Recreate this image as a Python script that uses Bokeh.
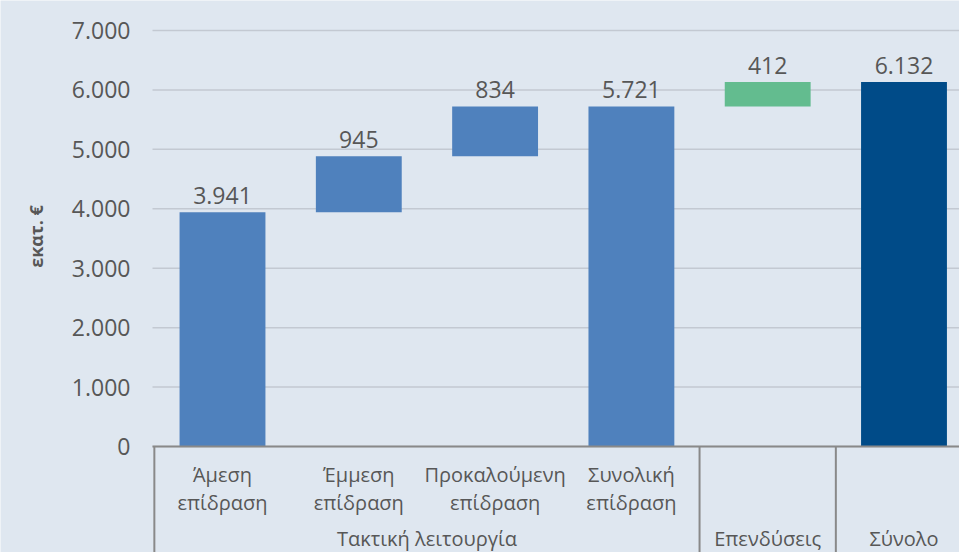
import math
from bokeh.plotting import figure
from bokeh.models import ColumnDataSource, Range1d
from bokeh.core.properties import value
from bokeh.embed import file_html
from bokeh.resources import INLINE

# ---- data ----
categories = ["Άμεση\nεπίδραση", "Έμμεση\nεπίδραση", "Προκαλούμενη\nεπίδραση",
              "Συνολική\nεπίδραση", "", ""]
groups = ["Τακτική λειτουργία", "Επενδύσεις", "Σύνολο"]
group_sizes = [4, 1, 1]
values = [3941, 945, 834, 5721, 412, 6132]
kinds = ["step", "step", "step", "total", "step", "total"]
y_ticks = [0, 1000, 2000, 3000, 4000, 5000, 6000, 7000]
y_label = "εκατ. €"

# ---- styles ----
bar_colors = ["#4f81bd", "#4f81bd", "#4f81bd", "#4f81bd", "#63bc8f", "#004b88"]
BG = "#dfe7f0"
TXT = "#575757"
AX = "#898989"
GRID = "#c3c9d2"
FONT = "Open Sans"

def fmt(v):
    return f"{v:,}".replace(",", ".")

# waterfall bottoms / tops
bottoms, tops = [], []
running = 0
for v, k in zip(values, kinds):
    if k == "total":
        bottoms.append(0)
        tops.append(v)
        running = v
    else:
        bottoms.append(running)
        tops.append(running + v)
        running += v

xs = list(range(len(values)))
src = ColumnDataSource(dict(x=xs, bottom=bottoms, top=tops, color=bar_colors,
                            label=[fmt(v) for v in values],
                            line1=[c.split("\n")[0] for c in categories],
                            line2=[c.split("\n")[1] if "\n" in c else "" for c in categories]))

# ---- layout (whole canvas is the frame) ----
W, H = 959, 552
PX_PER_UNIT = 416 / 7000.0      # vertical pixels per unit
BAND_PX = 136.3                 # horizontal pixels per category
X0_PX, Y0_PX = 222, 446         # page position of category 0 / value 0
PLOT_LEFT_PX = 152

def dx(px):
    return (px - X0_PX) / BAND_PX

def dy(px):
    return (Y0_PX - px) / PX_PER_UNIT

x_start, x_end = dx(0), dx(W)
y_top, y_bot = dy(0), dy(H)
x_left = dx(PLOT_LEFT_PX)

p = figure(width=W, height=H, output_backend="svg", toolbar_location=None,
           x_range=Range1d(x_start, x_end), y_range=Range1d(y_bot, y_top),
           min_border=0, background_fill_color=BG, border_fill_color=BG,
           outline_line_color=None, x_axis_location=None, y_axis_location=None)
p.grid.visible = False

# gridlines
p.segment(x0=[x_left] * len(y_ticks), y0=y_ticks, x1=[x_end] * len(y_ticks), y1=y_ticks,
          line_color=GRID, line_width=1.5)

# y tick labels
p.text(x=[x_left] * len(y_ticks), y=y_ticks, text=[fmt(t) for t in y_ticks],
       x_offset=-22, text_align="right", text_baseline="middle",
       text_font=value(FONT), text_font_size="23px", text_color=TXT)

# y title
p.text(x=[x_left], y=[(y_ticks[0] + y_ticks[-1]) / 2], text=[y_label],
       x_offset=35 - PLOT_LEFT_PX, y_offset=-2, angle=math.pi / 2,
       text_align="center", text_baseline="middle", text_font=value(FONT),
       text_font_size="18px", text_font_style="bold", text_color=TXT)

# bars
p.vbar(x="x", bottom="bottom", top="top", width=0.63, fill_color="color",
       line_color=None, source=src)

# value labels
p.text(x="x", y="top", text="label", source=src, text_align="center",
       text_baseline="middle", y_offset=-17, text_font=value(FONT),
       text_font_size="23px", text_color=TXT)

# category axis line and separators
p.segment(x0=[x_left], y0=[0], x1=[x_end], y1=[0], line_color=AX, line_width=2)
bounds = [-0.5]
acc = -0.5
for g in group_sizes:
    acc += g
    bounds.append(acc)
p.segment(x0=bounds, y0=[0] * len(bounds), x1=bounds, y1=[y_bot] * len(bounds),
          line_color=AX, line_width=2)

# category labels (two lines)
p.text(x="x", y=dy(474), text="line1", source=src, text_align="center",
       text_baseline="middle", text_font=value(FONT), text_font_size="20px",
       text_color=TXT)
p.text(x="x", y=dy(502), text="line2", source=src, text_align="center",
       text_baseline="middle", text_font=value(FONT), text_font_size="20px",
       text_color=TXT)

# group labels
gx = []
start = 0
for g in group_sizes:
    gx.append(start + (g - 1) / 2)
    start += g
p.text(x=gx, y=[dy(538)] * len(gx), text=groups, text_align="center",
       text_baseline="middle", text_font=value(FONT), text_font_size="20px",
       text_color=TXT)

open("out.html", "w").write(file_html(p, INLINE))
